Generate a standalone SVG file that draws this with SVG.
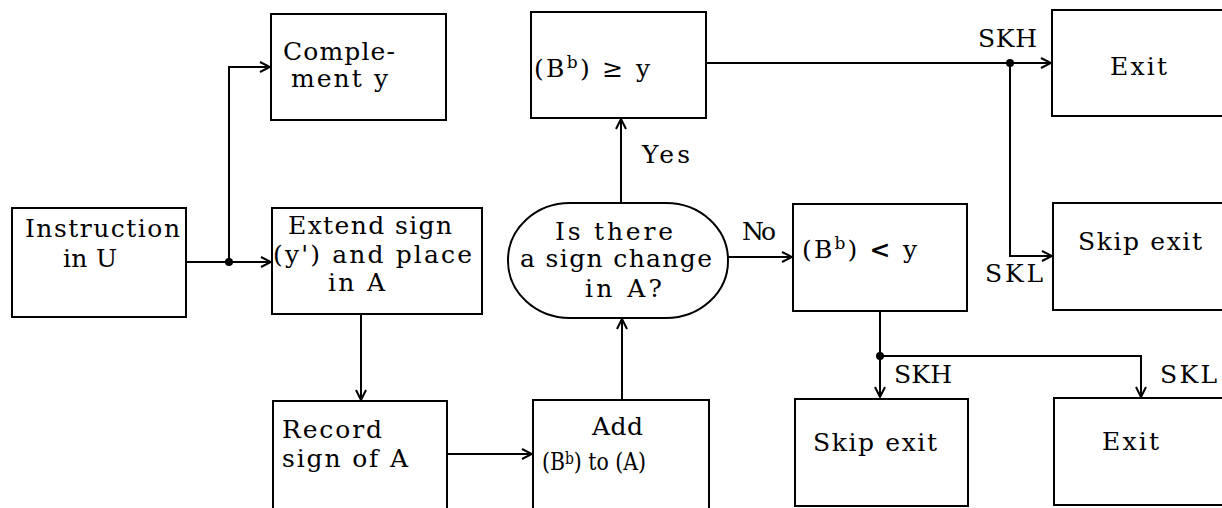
<svg xmlns="http://www.w3.org/2000/svg" width="1222" height="508" viewBox="0 0 1222 508">
<style>
.box{fill:#fff;stroke:#000;stroke-width:2}
.c{fill:none;stroke:#000;stroke-width:2}
.t{font-family:"DejaVu Serif",serif;font-size:25px;fill:#000}
.sup{font-size:17px}
</style>
<defs>
<marker id="arr" viewBox="0 0 12 12" refX="11" refY="6" markerWidth="12" markerHeight="12" markerUnits="userSpaceOnUse" orient="auto">
<path d="M1,1 L11,6 L1,11" fill="none" stroke="#000" stroke-width="2"/>
</marker>
</defs>
<rect width="1222" height="508" fill="#fff"/>
<g id="connectors">
<path class="c" d="M186,262 H271" marker-end="url(#arr)"/>
<path class="c" d="M229,262 V67 H270" marker-end="url(#arr)"/>
<path class="c" d="M361,314 V400" marker-end="url(#arr)"/>
<path class="c" d="M447,454 H532" marker-end="url(#arr)"/>
<path class="c" d="M622,400 V319" marker-end="url(#arr)"/>
<path class="c" d="M621,203 V119" marker-end="url(#arr)"/>
<path class="c" d="M728,257 H792" marker-end="url(#arr)"/>
<path class="c" d="M706,63 H1051" marker-end="url(#arr)"/>
<path class="c" d="M1010,63 V256 H1052" marker-end="url(#arr)"/>
<path class="c" d="M880,311 V397" marker-end="url(#arr)"/>
<path class="c" d="M880,356 H1141 V397" marker-end="url(#arr)"/>
<circle cx="229" cy="262" r="4"/>
<circle cx="1010" cy="63" r="4"/>
<circle cx="880" cy="356" r="4"/>
<text class="t" x="742" y="240" textLength="34">No</text>
<text class="t" x="642" y="163" textLength="48">Yes</text>
<text class="t" x="978" y="47" textLength="59">SKH</text>
<text class="t" x="985" y="282" textLength="58">SKL</text>
<text class="t" x="894" y="383" textLength="58">SKH</text>
<text class="t" x="1160" y="383" textLength="57">SKL</text>
</g>
<g id="n-complement">
<rect class="box" x="271" y="14" width="175" height="106"/>
<text class="t" x="283" y="60" textLength="112">Comple-</text>
<text class="t" x="291" y="87" textLength="97">ment y</text>
</g>
<g id="n-instruction">
<rect class="box" x="12" y="208" width="174" height="109"/>
<text class="t" x="25" y="237" textLength="155">Instruction</text>
<text class="t" x="63" y="267" textLength="54">in U</text>
</g>
<g id="n-extend">
<rect class="box" x="272" y="208" width="210" height="106"/>
<text class="t" x="288" y="234" textLength="164">Extend sign</text>
<text class="t" x="273" y="263" textLength="199">(y') and place</text>
<text class="t" x="328" y="291" textLength="57">in A</text>
</g>
<g id="n-record">
<rect class="box" x="273" y="401" width="174" height="120"/>
<text class="t" x="282" y="438" textLength="100">Record</text>
<text class="t" x="282" y="467" textLength="126">sign of A</text>
</g>
<g id="n-add">
<rect class="box" x="533" y="400" width="176" height="120"/>
<text class="t" x="592" y="435" textLength="51">Add</text>
<text class="t" x="542" y="470" textLength="104" lengthAdjust="spacingAndGlyphs">(B<tspan class="sup" dy="-6">b</tspan><tspan dy="6">) to (A)</tspan></text>
</g>
<g id="n-decision">
<rect class="box" x="508" y="203" width="220" height="115" rx="62" ry="57"/>
<text class="t" x="555" y="240" textLength="118">Is there</text>
<text class="t" x="520" y="267" textLength="192">a sign change</text>
<text class="t" x="585" y="297" textLength="77">in A?</text>
</g>
<g id="n-ge">
<rect class="box" x="531" y="12" width="175" height="106"/>
<text class="t" x="534" y="77" textLength="116">(B<tspan class="sup" dy="-9">b</tspan><tspan dy="9">) ≥ y</tspan></text>
</g>
<g id="n-lt">
<rect class="box" x="793" y="204" width="174" height="107"/>
<text class="t" x="802" y="258" textLength="115">(B<tspan class="sup" dy="-9">b</tspan><tspan dy="9">) <tspan font-weight="bold">&lt;</tspan> y</tspan></text>
</g>
<g id="n-exit-top">
<rect class="box" x="1052" y="10" width="180" height="106"/>
<text class="t" x="1110" y="75" textLength="57">Exit</text>
</g>
<g id="n-skip-top">
<rect class="box" x="1053" y="203" width="180" height="107"/>
<text class="t" x="1078" y="250" textLength="124">Skip exit</text>
</g>
<g id="n-skip-bottom">
<rect class="box" x="795" y="399" width="173" height="107"/>
<text class="t" x="813" y="451" textLength="124">Skip exit</text>
</g>
<g id="n-exit-bottom">
<rect class="box" x="1054" y="398" width="180" height="107"/>
<text class="t" x="1102" y="450" textLength="57">Exit</text>
</g>
</svg>
